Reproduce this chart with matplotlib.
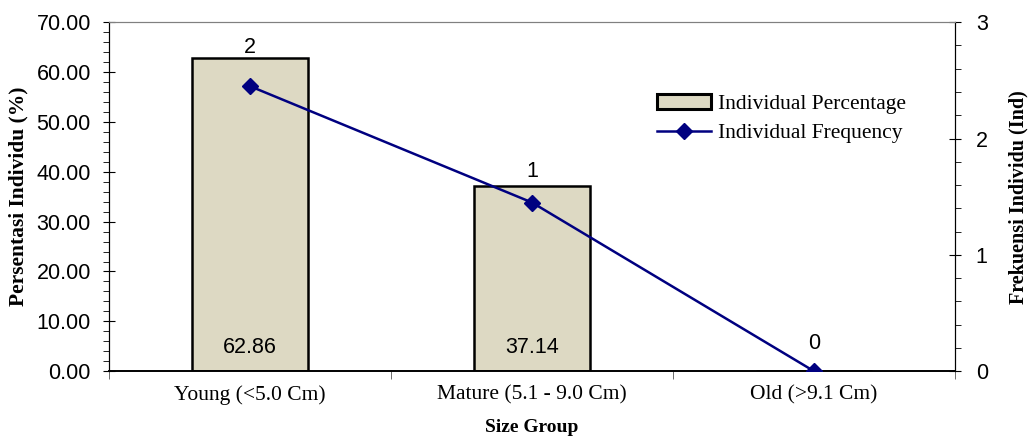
import matplotlib.pyplot as plt
from matplotlib.ticker import MultipleLocator, FormatStrFormatter
from matplotlib.patches import Patch
from matplotlib.lines import Line2D

# data
groups = ["Young (<5.0 Cm)", "Mature (5.1 - 9.0 Cm)", "Old (>9.1 Cm)"]
percentage = [62.86, 37.14, 0.0]
frequency = [2.45, 1.45, 0.0]
freq_labels = ["2", "1", "0"]
pct_labels = ["62.86", "37.14"]

bar_color = "#DDD9C3"
line_color = "#000080"
serif = "Liberation Serif"
sans = "Liberation Sans"
fs = 15.5

fig = plt.figure(figsize=(10.28, 4.44), dpi=100)
ax = fig.add_axes([0.106, 0.164, 0.823, 0.786])
ax2 = ax.twinx()

x = list(range(len(groups)))
ax.bar(x, percentage, width=0.41, color=bar_color, edgecolor="black", linewidth=1.8, zorder=2)
for i, lab in enumerate(pct_labels):
    ax.annotate(lab, xy=(i, 0), xytext=(0, 17), textcoords="offset points",
                ha="center", va="center", fontsize=fs, family=sans)

ax2.plot(x, frequency, color=line_color, linewidth=1.8, marker="D", markersize=8, zorder=3)
label_offsets = [28, 22, 20]
for i, lab in enumerate(freq_labels):
    ax2.annotate(lab, xy=(i, frequency[i]), xytext=(0, label_offsets[i]), textcoords="offset points",
                 ha="center", va="center", fontsize=fs, family=sans)

ax.set_xlim(-0.5, 2.5)
ax.set_ylim(0, 70)
ax2.set_ylim(0, 3)

ax.yaxis.set_major_locator(MultipleLocator(10))
ax.yaxis.set_minor_locator(MultipleLocator(2))
ax.yaxis.set_major_formatter(FormatStrFormatter("%.2f"))
ax2.yaxis.set_major_locator(MultipleLocator(1))
ax2.yaxis.set_minor_locator(MultipleLocator(0.2))

ax.set_xticks(x)
ax.set_xticklabels(groups, family=serif, fontsize=fs)
ax.set_xticks([-0.5, 0.5, 1.5, 2.5], minor=True)
ax.tick_params(axis="x", which="major", length=0, pad=10)
ax.tick_params(axis="x", which="minor", length=6, direction="out", color="#555555")

ax.tick_params(axis="y", which="major", length=8, direction="inout", labelsize=fs, pad=9)
ax2.tick_params(axis="y", which="major", length=8, direction="inout", labelsize=fs, pad=11)
for a in (ax, ax2):
    a.tick_params(axis="y", which="minor", length=4, direction="out")
    for t in a.get_yticklabels():
        t.set_family(sans)

ax.set_ylabel("Persentasi Individu (%)", family=serif, fontweight="bold", fontsize=fs, labelpad=6)
ax2.set_ylabel("Frekuensi Individu (Ind)", family=serif, fontweight="bold", fontsize=14.5, labelpad=15)
ax.set_xlabel("Size Group", family=serif, fontweight="bold", fontsize=14, labelpad=10)

for a in (ax, ax2):
    a.spines["top"].set_color("#808080")
    a.spines["left"].set_color("black")
    a.spines["right"].set_color("black")
    a.spines["bottom"].set_color("black")
    a.spines["bottom"].set_linewidth(1.2)

handles = [Patch(facecolor=bar_color, edgecolor="black", linewidth=2.2),
           Line2D([0], [0], color=line_color, linewidth=1.8, marker="D", markersize=8)]
ax.legend(handles, ["Individual Percentage", "Individual Frequency"], loc="upper left",
          bbox_to_anchor=(0.638, 0.82), frameon=False, prop={"family": serif, "size": fs},
          handlelength=2.5, handletextpad=0.3, labelspacing=0.45, borderaxespad=0)

fig.savefig("out.png", dpi=100)
